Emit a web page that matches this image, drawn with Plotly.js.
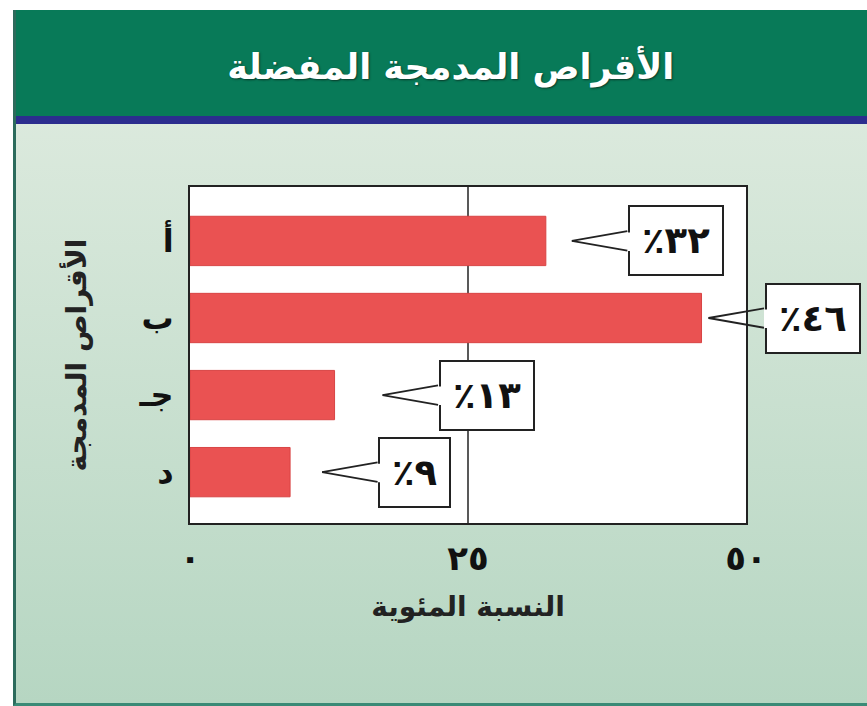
<!DOCTYPE html>
<html>
<head>
<meta charset="utf-8">
<script src="https://cdn.plot.ly/plotly-3.0.1.min.js"></script>
<style>
  body { margin: 0; background: #ffffff; }
  #frame {
    position: absolute; left: 13px; top: 10px; width: 860px; height: 693px;
    border-left: 3px solid #2c6b5c; border-bottom: 3px solid #3a8a76;
    background: linear-gradient(#e2ede2, #b6d6c2);
  }
  #band { position: absolute; left: 0; top: 0; width: 100%; height: 106px; background: #087a58; }
  #stripe { position: absolute; left: 0; top: 106px; width: 100%; height: 8px; background: #2b2d8e; }
  #myPlot { position: absolute; left: 0; top: 0; width: 867px; height: 706px; }
</style>
</head>
<body>
<div id="frame"><div id="band"></div><div id="stripe"></div></div>
<div id="myPlot"></div>
<script>
// categories (top to bottom) and their percentages
var discs = ['أ', 'ب', 'جـ', 'د'];
var percents = [32, 46, 13, 9];
var labels = ['٪٣٢', '٪٤٦', '٪١٣', '٪٩'];
var xTicks = [0, 25, 50];
var xTickText = ['٠', '٢٥', '٥٠'];

// gap in pixels between each bar end and its callout tip
var tipGap = [26, 7, 48, 32];
var wedgeLen = 56;   // tip to box edge, px
var wedgeHalf = 10;  // half opening of the wedge at the box, px

var bars = {
    type: 'bar',
    orientation: 'h',
    x: percents,
    y: discs,
    width: 0.64,
    marker: {
        color: '#ea5252',
        line: { color: '#d84444', width: 1 }
    },
    hoverinfo: 'x+y'
}

var annotations = [];
for (var i = 0; i < discs.length; i++) {
    // the box with the percentage
    annotations.push({
        x: percents[i], y: discs[i], xref: 'x', yref: 'y',
        xshift: tipGap[i],
        text: '<b>' + labels[i] + '</b>',
        showarrow: true, arrowhead: 0, arrowcolor: 'rgba(0,0,0,0)',
        ax: wedgeLen, ay: 0, xanchor: 'left', yanchor: 'middle',
        font: { family: 'DejaVu Sans', size: 37, color: '#111111' },
        bgcolor: '#ffffff', bordercolor: '#222222', borderwidth: 2, borderpad: 12
    });
    // white gap where the wedge meets the box
    annotations.push({
        x: percents[i], y: discs[i], xref: 'x', yref: 'y',
        xshift: tipGap[i] + wedgeLen + 1, yshift: -wedgeHalf,
        text: '', showarrow: true, arrowhead: 0,
        arrowwidth: 3, arrowcolor: '#ffffff',
        ax: 0, ay: -2 * wedgeHalf, standoff: 0, startstandoff: 0
    });
    // two sides of the pointer wedge
    [-wedgeHalf, wedgeHalf].forEach(function (dy) {
        annotations.push({
            x: percents[i], y: discs[i], xref: 'x', yref: 'y',
            xshift: tipGap[i],
            text: '', showarrow: true, arrowhead: 0,
            arrowwidth: 1.8, arrowcolor: '#222222',
            ax: wedgeLen + 1, ay: dy, standoff: 0, startstandoff: 0
        });
    });
}

var layout = {
    width: 867,
    height: 706,
    paper_bgcolor: 'rgba(0,0,0,0)',
    plot_bgcolor: '#ffffff',
    margin: { l: 190, r: 121, t: 187, b: 183 },
    showlegend: false,
    title: {
        text: '<b>الأقراص المدمجة المفضلة</b>',
        x: 0.52, xanchor: 'center',
        y: 0.905, yanchor: 'middle',
        font: { family: 'DejaVu Sans', size: 35, color: '#ffffff', shadow: '1px 1px 2px #0a3a2a' }
    },
    xaxis: {
        range: [0, 50],
        tickvals: xTicks,
        ticktext: xTickText,
        ticks: '',
        showgrid: false,
        zeroline: false,
        showline: true, mirror: true, linecolor: '#222222', linewidth: 2,
        tickfont: { family: 'DejaVu Sans', size: 34, color: '#111111', weight: 'bold' },
        ticklabelstandoff: 4,
        title: {
            text: '<b>النسبة المئوية</b>',
            font: { family: 'DejaVu Sans', size: 28, color: '#222222' },
            standoff: 20
        }
    },
    yaxis: {
        type: 'category',
        categoryorder: 'array',
        categoryarray: discs,
        range: [3.66, -0.70],
        ticks: '',
        showgrid: false,
        zeroline: false,
        showline: true, mirror: true, linecolor: '#222222', linewidth: 2,
        tickfont: { family: 'DejaVu Sans', size: 32, color: '#111111', weight: 'bold' },
        ticklabelstandoff: 8,
        title: {
            text: '<b>الأقراص المدمجة</b>',
            font: { family: 'DejaVu Sans', size: 28, color: '#222222' },
            standoff: 44
        }
    },
    shapes: [{
        type: 'line', xref: 'x', yref: 'paper',
        x0: xTicks[1], x1: xTicks[1], y0: 0, y1: 1,
        line: { color: '#222222', width: 1.5 },
        layer: 'below'
    }],
    annotations: annotations
}

Plotly.newPlot('myPlot', [bars], layout, { displayModeBar: false });
</script>
</body>
</html>
